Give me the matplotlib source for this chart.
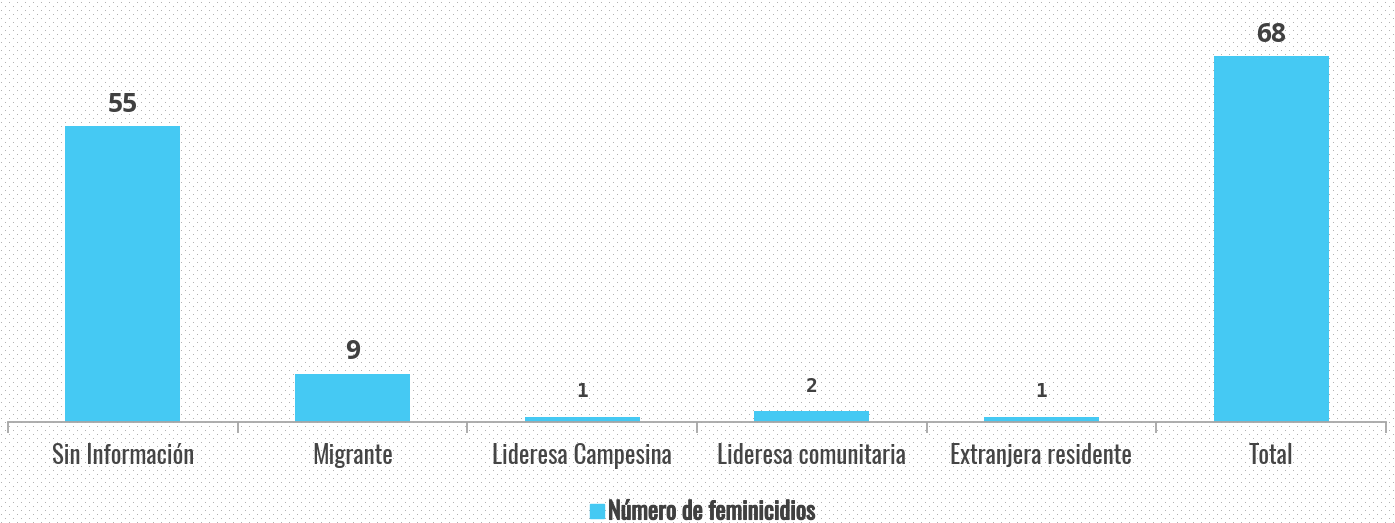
import numpy as np
import matplotlib

matplotlib.use("Agg")
import matplotlib.pyplot as plt
import matplotlib.patheffects as pe

categories = ["Sin Información", "Migrante", "Lideresa Campesina",
              "Lideresa comunitaria", "Extranjera residente", "Total"]
values = [55, 9, 1, 2, 1, 68]
series_name = "Número de feminicidios"

BAR = "#45C9F3"
INK = "#404040"
AXIS = "#A6A6A6"
COND = ["Oswald", "DejaVu Sans"]

W, H = 1395, 523
fig = plt.figure(figsize=(W / 100, H / 100), dpi=100)

# dotted background (Excel 5% pattern)
bg = np.ones((H, W, 3))
yy, xx = np.mgrid[0:H, 0:W]
dots = (yy % 4 == 2) & (((xx + (yy // 4 % 2) * 4) % 8) == 1)
bg[dots] = 0.70
fig.figimage(bg, 0, 0, zorder=-5)

ax = fig.add_axes([8 / W, (H - 422) / H, (1386 - 8) / W, 422 / H], zorder=2)
ax.patch.set_alpha(0)
x = np.arange(len(categories))
ax.bar(x, values, width=0.5, color=BAR, zorder=2)
ax.set_xlim(-0.5, len(categories) - 0.5)
ax.set_ylim(0, 78.4)

for xi, v in zip(x, values):
    if v < 5:
        ax.annotate(str(v), (xi, v), xytext=(0, 11), textcoords="offset points",
                    ha="center", va="bottom", color=INK, fontweight="bold",
                    fontsize=14, family="DejaVu Sans Mono")
    else:
        ax.annotate(str(v), (xi, v), xytext=(0, 6), textcoords="offset points",
                    ha="center", va="bottom", color=INK, fontweight="bold",
                    fontsize=19, family="Open Sans")

for side in ("top", "right", "left"):
    ax.spines[side].set_visible(False)
ax.spines["bottom"].set_color(AXIS)
ax.spines["bottom"].set_linewidth(1.3)
ax.set_yticks([])
ax.set_xticks(x)
ax.set_xticklabels(categories, family=COND, fontsize=18, color="#454545")
ax.tick_params(axis="x", which="major", length=0, pad=15)
ax.set_xticks(np.arange(len(categories) + 1) - 0.5, minor=True)
ax.tick_params(axis="x", which="minor", length=8, color=AXIS, width=1.3)

# legend: swatch + bold-looking label
fig.patches.append(plt.Rectangle((590 / W, (H - 518) / H), 14 / W, 14 / H,
                                 transform=fig.transFigure, color=BAR,
                                 figure=fig))
leg = fig.text(608 / W, (H - 512) / H, series_name, family=COND, fontsize=17.5,
               color=INK, ha="left", va="center")
leg.set_path_effects([pe.withStroke(linewidth=0.8, foreground=INK)])

fig.savefig("out.png", dpi=100)
